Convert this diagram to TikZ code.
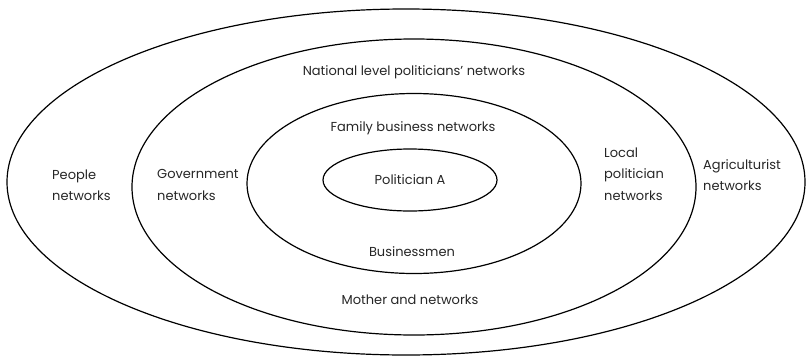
\documentclass[tikz,border=0pt]{standalone}
\usepackage{fontspec}
\setmainfont{Poppins}
\begin{document}
\begin{tikzpicture}[x=1pt,y=-1pt,
  ring/.style={draw=black, line width=1.2pt},
  lbl/.style={font=\fontsize{13}{21.5}\selectfont, text=black!85, inner sep=0pt},
  side/.style={lbl, align=left, anchor=west}]
  \useasboundingbox (0,0) rectangle (806,359);
  % concentric network rings
  \draw[ring] (406,182) ellipse [x radius=399pt, y radius=173pt];
  \draw[ring] (414,187) ellipse [x radius=282pt, y radius=148pt];
  \draw[ring] (414,183.5) ellipse [x radius=167pt, y radius=90pt];
  \draw[ring] (410,180) ellipse [x radius=87pt, y radius=31pt];
  % labels
  \node[lbl] (core) at (410,180) {Politician A};
  \node[lbl] (fam)  at (413,128) {Family business networks};
  \node[lbl] (bus)  at (412,252) {Businessmen};
  \node[lbl] (nat)  at (414,72)  {National level politicians' networks};
  \node[lbl] (moth) at (410,300) {Mother and networks};
  \node[side] (gov)  at (157,185) {Government\\networks};
  \node[side] (loc)  at (604,174) {Local\\politician\\networks};
  \node[side] (peo)  at (52,185)  {People\\networks};
  \node[side] (agr)  at (703,175) {Agriculturist\\networks};
\end{tikzpicture}
\end{document}
